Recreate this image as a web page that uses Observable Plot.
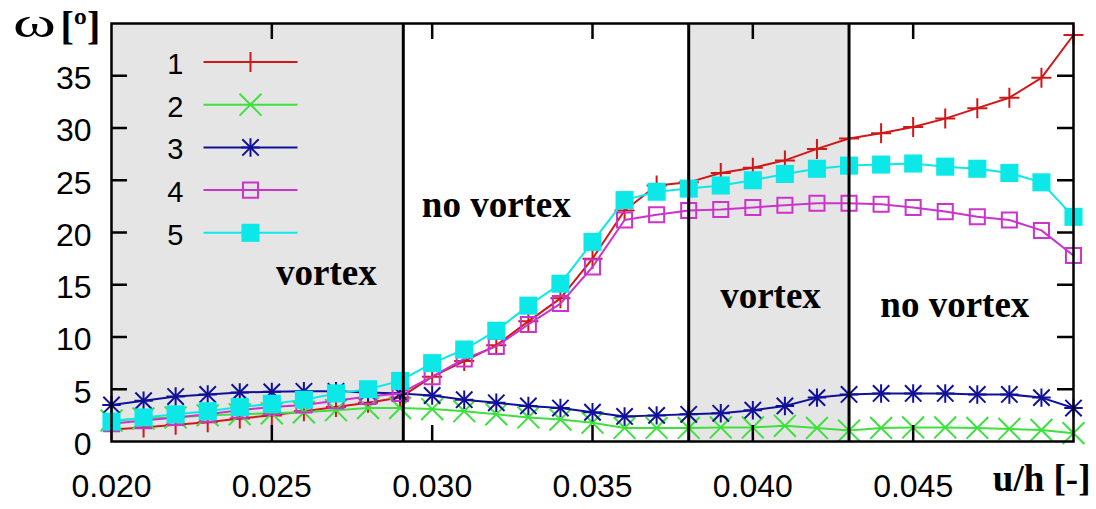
<!DOCTYPE html>
<html><head><meta charset="utf-8">
<script src="https://cdn.jsdelivr.net/npm/d3@7"></script>
<script src="https://cdn.jsdelivr.net/npm/@observablehq/plot@0.6"></script>
<style>body{margin:0;background:#fff} svg{display:block}</style>
</head><body><div id="chart"></div>
<script>
// ---- data ----
const uh = [0.020,0.021,0.022,0.023,0.024,0.025,0.026,0.027,0.028,0.029,0.030,0.031,0.032,0.033,0.034,0.035,0.036,0.037,0.038,0.039,0.040,0.041,0.042,0.043,0.044,0.045,0.046,0.047,0.048,0.049,0.050];
const series1 = [1.15,1.35,1.6,1.85,2.2,2.5,2.9,3.3,3.7,4.2,6.2,7.7,9.2,11.5,13.7,17.5,22.1,24.5,24.8,25.7,26.2,26.9,28.0,29.0,29.5,30.1,30.9,31.9,32.9,34.8,38.9];
const series2 = [2.0,2.2,2.3,2.5,2.6,2.7,2.8,3.0,3.2,3.2,3.1,2.9,2.6,2.3,2.1,1.8,1.3,1.3,1.3,1.35,1.35,1.5,1.3,1.05,1.3,1.35,1.35,1.3,1.2,1.1,0.8];
const series3 = [3.5,3.9,4.3,4.5,4.7,4.75,4.8,4.8,4.7,4.6,4.4,4.0,3.7,3.4,3.2,2.8,2.4,2.5,2.6,2.7,3.0,3.4,4.2,4.5,4.6,4.6,4.6,4.5,4.5,4.2,3.2];
const series4 = [1.7,2.0,2.3,2.6,3.0,3.3,3.5,3.9,4.3,4.6,6.2,7.9,9.1,11.2,13.2,16.7,21.2,21.7,22.1,22.2,22.4,22.6,22.8,22.8,22.7,22.4,22.0,21.5,21.2,20.2,17.8];
const series5 = [1.9,2.3,2.6,2.9,3.3,3.6,4.0,4.6,5.0,5.8,7.5,8.8,10.6,13.0,15.1,19.1,23.1,23.9,24.2,24.5,25.0,25.6,26.1,26.4,26.5,26.6,26.3,26.1,25.7,24.8,21.5];
const seriesNames = ["1","2","3","4","5"];
const xTickLabels = [0.020,0.025,0.030,0.035,0.040,0.045];
const xTickMarks = [0.025,0.030,0.035,0.040,0.045];
const yTickLabels = [0,5,10,15,20,25,30,35];
const yTickMarks = [5,10,15,20,25,30,35];
const regionBounds = [0.0291,0.038,0.043];
const shadedFrom = [0.020,0.038];
const shadedTo = [0.0291,0.043];
const regionLabels = ["vortex","no vortex","vortex","no vortex"];
const regionLabelX = [0.0267,0.0320,0.04055,0.0463];
const regionLabelY = [14.93,21.44,12.82,11.87];

// ---- layout / style ----
const W = 1096, H = 509, mL = 111, mR = 23, mT = 23, mB = 68;
const xDom = [0.020, 0.050], yDom = [0, 40];
const fw = W - mL - mR, fh = H - mT - mB;
const px2x = px => xDom[0] + (px - mL) / fw * (xDom[1] - xDom[0]);
const px2y = py => yDom[0] + (H - mB - py) / fh * (yDom[1] - yDom[0]);
const colors = ["#d01818", "#3ee03e", "#10109a", "#cc33cc", "#0ce8e8"];
const rows = uh.map((u, i) => ({u, s1: series1[i], s2: series2[i], s3: series3[i], s4: series4[i], s5: series5[i]}));
const keys = ["s1","s2","s3","s4","s5"];
const SERIF = "'Liberation Serif','Times New Roman',serif";
const SANS = "'Liberation Sans', Arial, sans-serif";
const TK = 16;

function symbolMarks(data, xf, yf, k) {
  const c = colors[k];
  if (k === 0) return [Plot.dot(data, {x: xf, y: yf, symbol: "plus", r: 6.5, stroke: c, strokeWidth: 2})];
  if (k === 1) return [Plot.dot(data, {x: xf, y: yf, symbol: "times", r: 10, stroke: c, strokeWidth: 2})];
  if (k === 2) return [
    Plot.dot(data, {x: xf, y: yf, symbol: "plus", r: 6, stroke: c, strokeWidth: 2}),
    Plot.dot(data, {x: xf, y: yf, symbol: "times", r: 7.5, stroke: c, strokeWidth: 2})];
  if (k === 3) return [Plot.dot(data, {x: xf, y: yf, symbol: "square", r: 8.5, fill: "none", stroke: c, strokeWidth: 2})];
  return [Plot.dot(data, {x: xf, y: yf, symbol: "square", r: 10.2, fill: c, stroke: "none"})];
}

const marks = [];
// shaded regions
marks.push(Plot.rect(shadedFrom.map((a, i) => ({a, b: shadedTo[i]})), {x1: "a", x2: "b", fill: "#e5e5e5"}));
// series
keys.forEach((k, i) => {
  marks.push(Plot.line(rows, {x: "u", y: k, stroke: colors[i], strokeWidth: 2}));
  marks.push(...symbolMarks(rows, "u", k, i));
});
// legend
const legRows = seriesNames.map((name, i) => {
  const py = 61.5 + 42.7 * i;
  return {name, i, x1: px2x(203), x2: px2x(297), xm: px2x(250), xt: px2x(183), y: px2y(py), yt: px2y(py + 12)};
});
legRows.forEach((r, i) => {
  marks.push(Plot.link([r], {x1: "x1", x2: "x2", y1: "y", y2: "y", stroke: colors[i], strokeWidth: 2}));
  marks.push(...symbolMarks([r], "xm", "y", i));
  marks.push(Plot.text([r], {x: "xt", y: "yt", text: "name", textAnchor: "end", lineAnchor: "bottom", fontSize: 29, fontFamily: SANS, fill: "black"}));
});
// region boundaries
marks.push(Plot.ruleX(regionBounds, {stroke: "black", strokeWidth: 3}));
// region labels
marks.push(Plot.text(regionLabels.map((t, i) => ({t, x: regionLabelX[i], y: regionLabelY[i]})),
  {x: "x", y: "y", text: "t", lineAnchor: "bottom", textAnchor: "middle", fontSize: 37, fontWeight: "bold", fontFamily: SERIF, fill: "black"}));
// frame & inward ticks
marks.push(Plot.frame({stroke: "black", strokeWidth: 2.5}));
marks.push(Plot.tickX(xTickMarks, {x: d => d, insetTop: fh - TK, stroke: "black", strokeWidth: 2.5}));
marks.push(Plot.tickX(xTickMarks, {x: d => d, insetBottom: fh - TK, stroke: "black", strokeWidth: 2.5}));
marks.push(Plot.tickY(yTickMarks, {y: d => d, insetRight: fw - TK, stroke: "black", strokeWidth: 2.5}));
marks.push(Plot.tickY(yTickMarks, {y: d => d, insetLeft: fw - TK, stroke: "black", strokeWidth: 2.5}));
// tick labels
marks.push(Plot.text(xTickLabels, {x: d => d, frameAnchor: "bottom", dy: 45, text: d => d3.format(".3f")(d), textAnchor: "middle", lineAnchor: "middle", fontSize: 32, fontFamily: SANS, fill: "black"}));
marks.push(Plot.text(yTickLabels, {y: d => d, frameAnchor: "left", dx: -20, dy: 3, text: d => String(d), textAnchor: "end", lineAnchor: "middle", fontSize: 32, fontFamily: SANS, fill: "black"}));
// axis titles
marks.push(Plot.text(["ω"], {frameAnchor: "top-left", dx: -77, dy: 13.5, textAnchor: "middle", lineAnchor: "bottom", fontSize: 42, fontFamily: SERIF, fill: "black"}));
marks.push(Plot.text(["[º]"], {frameAnchor: "top-left", dx: -51, dy: 15, textAnchor: "start", lineAnchor: "bottom", fontSize: 40, fontWeight: "bold", fontFamily: SERIF, fill: "black"}));
marks.push(Plot.text(["u/h [-]"], {frameAnchor: "bottom-right", dx: 17, dy: 49, textAnchor: "end", lineAnchor: "bottom", fontSize: 37, fontWeight: "bold", fontFamily: SERIF, fill: "black"}));

const chart = Plot.plot({
  width: W, height: H,
  marginLeft: mL, marginRight: mR, marginTop: mT, marginBottom: mB,
  x: {domain: xDom, axis: null},
  y: {domain: yDom, axis: null},
  style: {fontFamily: SANS, fontSize: "32px", color: "black", background: "white", overflow: "visible"},
  marks
});
// widen the omega glyph like the reference's script omega
d3.select(chart).selectAll("text").filter(function() { return this.textContent === "ω"; })
  .attr("textLength", 43).attr("lengthAdjust", "spacingAndGlyphs");
document.getElementById("chart").appendChild(chart);
</script>
</body></html>
